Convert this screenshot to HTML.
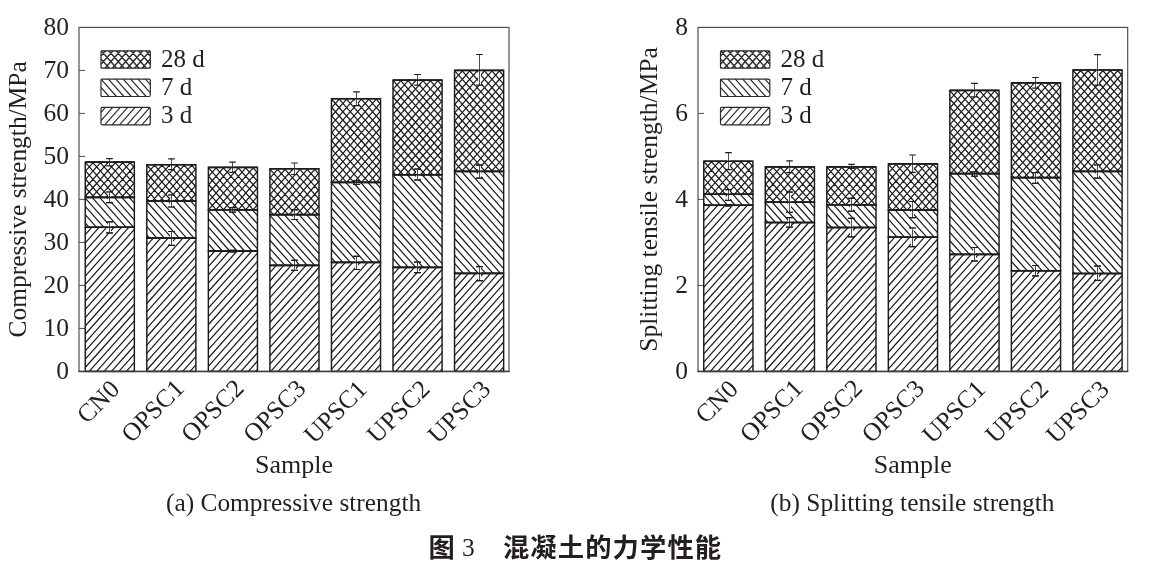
<!DOCTYPE html>
<html lang="zh">
<head>
<meta charset="utf-8">
<title>图 3 混凝土的力学性能</title>
<style>
html,body{margin:0;padding:0;background:#fff;}
body{width:1150px;height:566px;overflow:hidden;}
svg{display:block;}
</style>
</head>
<body>
<svg width="1150" height="566" viewBox="0 0 1150 566">
<rect width="1150" height="566" fill="#fff"/>
<rect x="79" y="27.4" width="430" height="344" fill="none" stroke="#4a4a4a" stroke-width="1.15"/>
<text x="69" y="378.9" font-family='"Liberation Serif", serif' font-size="25.5" text-anchor="end" fill="#231f20">0</text>
<path d="M79 328.4H85" stroke="#4a4a4a" stroke-width="1" fill="none"/>
<text x="69" y="335.9" font-family='"Liberation Serif", serif' font-size="25.5" text-anchor="end" fill="#231f20">10</text>
<path d="M79 285.4H85" stroke="#4a4a4a" stroke-width="1" fill="none"/>
<text x="69" y="292.9" font-family='"Liberation Serif", serif' font-size="25.5" text-anchor="end" fill="#231f20">20</text>
<path d="M79 242.4H85" stroke="#4a4a4a" stroke-width="1" fill="none"/>
<text x="69" y="249.9" font-family='"Liberation Serif", serif' font-size="25.5" text-anchor="end" fill="#231f20">30</text>
<path d="M79 199.4H85" stroke="#4a4a4a" stroke-width="1" fill="none"/>
<text x="69" y="206.9" font-family='"Liberation Serif", serif' font-size="25.5" text-anchor="end" fill="#231f20">40</text>
<path d="M79 156.4H85" stroke="#4a4a4a" stroke-width="1" fill="none"/>
<text x="69" y="163.9" font-family='"Liberation Serif", serif' font-size="25.5" text-anchor="end" fill="#231f20">50</text>
<path d="M79 113.4H85" stroke="#4a4a4a" stroke-width="1" fill="none"/>
<text x="69" y="120.9" font-family='"Liberation Serif", serif' font-size="25.5" text-anchor="end" fill="#231f20">60</text>
<path d="M79 70.4H85" stroke="#4a4a4a" stroke-width="1" fill="none"/>
<text x="69" y="77.9" font-family='"Liberation Serif", serif' font-size="25.5" text-anchor="end" fill="#231f20">70</text>
<text x="69" y="34.9" font-family='"Liberation Serif", serif' font-size="25.5" text-anchor="end" fill="#231f20">80</text>
<path d="M85.25 234.56L91.73 227.3M85.25 242.87L99.15 227.3M85.25 251.18L106.57 227.3M85.25 259.49L113.99 227.3M85.25 267.8L121.41 227.3M85.25 276.11L128.83 227.3M85.25 284.42L134.35 229.43M85.25 292.73L134.35 237.74M85.25 301.04L134.35 246.05M85.25 309.35L134.35 254.36M85.25 317.66L134.35 262.67M85.25 325.97L134.35 270.98M85.25 334.28L134.35 279.29M85.25 342.59L134.35 287.6M85.25 350.9L134.35 295.91M85.25 359.21L134.35 304.22M85.25 367.52L134.35 312.53M89.21 371.4L134.35 320.84M96.63 371.4L134.35 329.15M104.05 371.4L134.35 337.46M111.47 371.4L134.35 345.77M118.89 371.4L134.35 354.08M126.31 371.4L134.35 362.39M133.73 371.4L134.35 370.7" stroke="#1c1a1b" stroke-width="1.22" fill="none"/>
<rect x="85.25" y="227.3" width="49.1" height="144.1" fill="none" stroke="#1c1a1b" stroke-width="1.45"/>
<path d="M109.5 221.8V232.9" stroke="#fff" stroke-width="2.8" fill="none"/>
<path d="M109.5 221.8V232.9" stroke="#222" stroke-width="0.8" fill="none"/>
<path d="M106.2 221.8H112.8M106.2 232.9H112.8" stroke="#1c1a1b" stroke-width="1.2" fill="none"/>
<path d="M85.25 222.98L89.11 227.3M85.25 214.67L96.53 227.3M85.25 206.36L103.95 227.3M85.25 198.05L111.37 227.3M92.09 197.4L118.79 227.3M99.51 197.4L126.21 227.3M106.93 197.4L133.63 227.3M114.35 197.4L134.35 219.8M121.77 197.4L134.35 211.49M129.19 197.4L134.35 203.18" stroke="#1c1a1b" stroke-width="1.22" fill="none"/>
<rect x="85.25" y="197.4" width="49.1" height="29.9" fill="none" stroke="#1c1a1b" stroke-width="1.45"/>
<path d="M109.5 221.8V232.9" stroke="#fff" stroke-width="2.8" fill="none"/>
<path d="M109.5 221.8V232.9" stroke="#222" stroke-width="0.8" fill="none"/>
<path d="M106.2 221.8H112.8M106.2 232.9H112.8" stroke="#1c1a1b" stroke-width="1.2" fill="none"/>
<path d="M109.5 192V202.7" stroke="#fff" stroke-width="2.8" fill="none"/>
<path d="M109.5 192V202.7" stroke="#222" stroke-width="0.8" fill="none"/>
<path d="M106.2 192H112.8M106.2 202.7H112.8" stroke="#1c1a1b" stroke-width="1.2" fill="none"/>
<path d="M85.25 163.04L86.09 162.1M85.25 171.35L93.51 162.1M85.25 179.66L100.93 162.1M85.25 187.97L108.35 162.1M85.25 196.28L115.77 162.1M91.67 197.4L123.19 162.1M99.09 197.4L130.61 162.1M106.51 197.4L134.35 166.22M113.93 197.4L134.35 174.53M121.35 197.4L134.35 182.84M128.77 197.4L134.35 191.15M85.25 195.6L86.85 197.4M85.25 187.29L94.27 197.4M85.25 178.98L101.69 197.4M85.25 170.67L109.11 197.4M85.25 162.36L116.53 197.4M92.43 162.1L123.95 197.4M99.85 162.1L131.37 197.4M107.27 162.1L134.35 192.42M114.69 162.1L134.35 184.11M122.11 162.1L134.35 175.8M129.53 162.1L134.35 167.49" stroke="#1c1a1b" stroke-width="1.25" fill="none"/>
<rect x="85.25" y="162.1" width="49.1" height="35.3" fill="none" stroke="#1c1a1b" stroke-width="1.45"/>
<path d="M109.5 192V202.7" stroke="#fff" stroke-width="2.8" fill="none"/>
<path d="M109.5 192V202.7" stroke="#222" stroke-width="0.8" fill="none"/>
<path d="M106.2 192H112.8M106.2 202.7H112.8" stroke="#1c1a1b" stroke-width="1.2" fill="none"/>
<path d="M109.5 158.6V165.8" stroke="#fff" stroke-width="2.8" fill="none"/>
<path d="M109.5 158.6V165.8" stroke="#222" stroke-width="0.8" fill="none"/>
<path d="M106.2 158.6H112.8M106.2 165.8H112.8" stroke="#1c1a1b" stroke-width="1.2" fill="none"/>
<path d="M85.25 227.3H134.35M85.25 197.4H134.35M85.25 162.1H134.35" stroke="#1c1a1b" stroke-width="1.6" fill="none"/>
<path d="M146.8 245.36L153.28 238.1M146.8 253.67L160.7 238.1M146.8 261.98L168.12 238.1M146.8 270.29L175.54 238.1M146.8 278.6L182.96 238.1M146.8 286.91L190.38 238.1M146.8 295.22L195.9 240.23M146.8 303.53L195.9 248.54M146.8 311.84L195.9 256.85M146.8 320.15L195.9 265.16M146.8 328.46L195.9 273.47M146.8 336.77L195.9 281.78M146.8 345.08L195.9 290.09M146.8 353.39L195.9 298.4M146.8 361.7L195.9 306.71M146.8 370.01L195.9 315.02M152.98 371.4L195.9 323.33M160.4 371.4L195.9 331.64M167.82 371.4L195.9 339.95M175.24 371.4L195.9 348.26M182.66 371.4L195.9 356.57M190.08 371.4L195.9 364.88" stroke="#1c1a1b" stroke-width="1.22" fill="none"/>
<rect x="146.8" y="238.1" width="49.1" height="133.3" fill="none" stroke="#1c1a1b" stroke-width="1.45"/>
<path d="M171.5 231.5V245.3" stroke="#fff" stroke-width="2.8" fill="none"/>
<path d="M171.5 231.5V245.3" stroke="#222" stroke-width="0.8" fill="none"/>
<path d="M168.2 231.5H174.8M168.2 245.3H174.8" stroke="#1c1a1b" stroke-width="1.2" fill="none"/>
<path d="M146.8 234.99L149.58 238.1M146.8 226.68L157 238.1M146.8 218.37L164.42 238.1M146.8 210.06L171.84 238.1M146.8 201.75L179.26 238.1M153.64 201.1L186.68 238.1M161.06 201.1L194.1 238.1M168.48 201.1L195.9 231.81M175.9 201.1L195.9 223.5M183.32 201.1L195.9 215.19M190.74 201.1L195.9 206.88" stroke="#1c1a1b" stroke-width="1.22" fill="none"/>
<rect x="146.8" y="201.1" width="49.1" height="37" fill="none" stroke="#1c1a1b" stroke-width="1.45"/>
<path d="M171.5 231.5V245.3" stroke="#fff" stroke-width="2.8" fill="none"/>
<path d="M171.5 231.5V245.3" stroke="#222" stroke-width="0.8" fill="none"/>
<path d="M168.2 231.5H174.8M168.2 245.3H174.8" stroke="#1c1a1b" stroke-width="1.2" fill="none"/>
<path d="M171.5 195V207" stroke="#fff" stroke-width="2.8" fill="none"/>
<path d="M171.5 195V207" stroke="#222" stroke-width="0.8" fill="none"/>
<path d="M168.2 195H174.8M168.2 207H174.8" stroke="#1c1a1b" stroke-width="1.2" fill="none"/>
<path d="M146.8 165.64L147.64 164.7M146.8 173.95L155.06 164.7M146.8 182.26L162.48 164.7M146.8 190.57L169.9 164.7M146.8 198.88L177.32 164.7M152.23 201.1L184.74 164.7M159.65 201.1L192.16 164.7M167.07 201.1L195.9 168.82M174.49 201.1L195.9 177.13M181.91 201.1L195.9 185.44M189.33 201.1L195.9 193.75M146.8 198.2L149.39 201.1M146.8 189.89L156.81 201.1M146.8 181.58L164.23 201.1M146.8 173.27L171.65 201.1M146.8 164.96L179.07 201.1M153.98 164.7L186.49 201.1M161.4 164.7L193.91 201.1M168.82 164.7L195.9 195.02M176.24 164.7L195.9 186.71M183.66 164.7L195.9 178.4M191.08 164.7L195.9 170.09" stroke="#1c1a1b" stroke-width="1.25" fill="none"/>
<rect x="146.8" y="164.7" width="49.1" height="36.4" fill="none" stroke="#1c1a1b" stroke-width="1.45"/>
<path d="M171.5 195V207" stroke="#fff" stroke-width="2.8" fill="none"/>
<path d="M171.5 195V207" stroke="#222" stroke-width="0.8" fill="none"/>
<path d="M168.2 195H174.8M168.2 207H174.8" stroke="#1c1a1b" stroke-width="1.2" fill="none"/>
<path d="M171.5 158.9V169.7" stroke="#fff" stroke-width="2.8" fill="none"/>
<path d="M171.5 158.9V169.7" stroke="#222" stroke-width="0.8" fill="none"/>
<path d="M168.2 158.9H174.8M168.2 169.7H174.8" stroke="#1c1a1b" stroke-width="1.2" fill="none"/>
<path d="M146.8 238.1H195.9M146.8 201.1H195.9M146.8 164.7H195.9" stroke="#1c1a1b" stroke-width="1.6" fill="none"/>
<path d="M208.35 258.26L214.83 251M208.35 266.57L222.25 251M208.35 274.88L229.67 251M208.35 283.19L237.09 251M208.35 291.5L244.51 251M208.35 299.81L251.93 251M208.35 308.12L257.45 253.13M208.35 316.43L257.45 261.44M208.35 324.74L257.45 269.75M208.35 333.05L257.45 278.06M208.35 341.36L257.45 286.37M208.35 349.67L257.45 294.68M208.35 357.98L257.45 302.99M208.35 366.29L257.45 311.3M211.21 371.4L257.45 319.61M218.63 371.4L257.45 327.92M226.05 371.4L257.45 336.23M233.47 371.4L257.45 344.54M240.89 371.4L257.45 352.85M248.31 371.4L257.45 361.16M255.73 371.4L257.45 369.47" stroke="#1c1a1b" stroke-width="1.22" fill="none"/>
<rect x="208.35" y="251" width="49.1" height="120.4" fill="none" stroke="#1c1a1b" stroke-width="1.45"/>
<path d="M232.5 250.4V251.8" stroke="#fff" stroke-width="2.8" fill="none"/>
<path d="M232.5 250.4V251.8" stroke="#222" stroke-width="0.8" fill="none"/>
<path d="M229.2 250.4H235.8M229.2 251.8H235.8" stroke="#1c1a1b" stroke-width="1.2" fill="none"/>
<path d="M208.35 243.69L214.88 251M208.35 235.38L222.3 251M208.35 227.07L229.72 251M208.35 218.76L237.14 251M208.35 210.45L244.56 251M215.19 209.8L251.98 251M222.61 209.8L257.45 248.82M230.03 209.8L257.45 240.51M237.45 209.8L257.45 232.2M244.87 209.8L257.45 223.89M252.29 209.8L257.45 215.58" stroke="#1c1a1b" stroke-width="1.22" fill="none"/>
<rect x="208.35" y="209.8" width="49.1" height="41.2" fill="none" stroke="#1c1a1b" stroke-width="1.45"/>
<path d="M232.5 250.4V251.8" stroke="#fff" stroke-width="2.8" fill="none"/>
<path d="M232.5 250.4V251.8" stroke="#222" stroke-width="0.8" fill="none"/>
<path d="M229.2 250.4H235.8M229.2 251.8H235.8" stroke="#1c1a1b" stroke-width="1.2" fill="none"/>
<path d="M232.5 207.7V212.1" stroke="#fff" stroke-width="2.8" fill="none"/>
<path d="M232.5 207.7V212.1" stroke="#222" stroke-width="0.8" fill="none"/>
<path d="M229.2 207.7H235.8M229.2 212.1H235.8" stroke="#1c1a1b" stroke-width="1.2" fill="none"/>
<path d="M208.35 168.34L209.19 167.4M208.35 176.65L216.61 167.4M208.35 184.96L224.03 167.4M208.35 193.27L231.45 167.4M208.35 201.58L238.87 167.4M208.43 209.8L246.29 167.4M215.85 209.8L253.71 167.4M223.27 209.8L257.45 171.52M230.69 209.8L257.45 179.83M238.11 209.8L257.45 188.14M245.53 209.8L257.45 196.45M252.95 209.8L257.45 204.76M208.35 209.21L208.87 209.8M208.35 200.9L216.29 209.8M208.35 192.59L223.71 209.8M208.35 184.28L231.13 209.8M208.35 175.97L238.55 209.8M208.35 167.66L245.97 209.8M215.53 167.4L253.39 209.8M222.95 167.4L257.45 206.03M230.37 167.4L257.45 197.72M237.79 167.4L257.45 189.41M245.21 167.4L257.45 181.1M252.63 167.4L257.45 172.79" stroke="#1c1a1b" stroke-width="1.25" fill="none"/>
<rect x="208.35" y="167.4" width="49.1" height="42.4" fill="none" stroke="#1c1a1b" stroke-width="1.45"/>
<path d="M232.5 207.7V212.1" stroke="#fff" stroke-width="2.8" fill="none"/>
<path d="M232.5 207.7V212.1" stroke="#222" stroke-width="0.8" fill="none"/>
<path d="M229.2 207.7H235.8M229.2 212.1H235.8" stroke="#1c1a1b" stroke-width="1.2" fill="none"/>
<path d="M232.5 162.1V172.3" stroke="#fff" stroke-width="2.8" fill="none"/>
<path d="M232.5 162.1V172.3" stroke="#222" stroke-width="0.8" fill="none"/>
<path d="M229.2 162.1H235.8M229.2 172.3H235.8" stroke="#1c1a1b" stroke-width="1.2" fill="none"/>
<path d="M208.35 251H257.45M208.35 209.8H257.45M208.35 167.4H257.45" stroke="#1c1a1b" stroke-width="1.6" fill="none"/>
<path d="M269.9 272.66L276.38 265.4M269.9 280.97L283.8 265.4M269.9 289.28L291.22 265.4M269.9 297.59L298.64 265.4M269.9 305.9L306.06 265.4M269.9 314.21L313.48 265.4M269.9 322.52L319 267.53M269.9 330.83L319 275.84M269.9 339.14L319 284.15M269.9 347.45L319 292.46M269.9 355.76L319 300.77M269.9 364.07L319 309.08M270.78 371.4L319 317.39M278.2 371.4L319 325.7M285.62 371.4L319 334.01M293.04 371.4L319 342.32M300.46 371.4L319 350.63M307.88 371.4L319 358.94M315.3 371.4L319 367.25" stroke="#1c1a1b" stroke-width="1.22" fill="none"/>
<rect x="269.9" y="265.4" width="49.1" height="106" fill="none" stroke="#1c1a1b" stroke-width="1.45"/>
<path d="M294.5 260.3V270.4" stroke="#fff" stroke-width="2.8" fill="none"/>
<path d="M294.5 260.3V270.4" stroke="#222" stroke-width="0.8" fill="none"/>
<path d="M291.2 260.3H297.8M291.2 270.4H297.8" stroke="#1c1a1b" stroke-width="1.2" fill="none"/>
<path d="M269.9 265.16L270.11 265.4M269.9 256.85L277.53 265.4M269.9 248.54L284.95 265.4M269.9 240.23L292.37 265.4M269.9 231.92L299.79 265.4M269.9 223.61L307.21 265.4M269.9 215.3L314.63 265.4M276.74 214.65L319 261.98M284.16 214.65L319 253.67M291.58 214.65L319 245.36M299 214.65L319 237.05M306.42 214.65L319 228.74M313.84 214.65L319 220.43" stroke="#1c1a1b" stroke-width="1.22" fill="none"/>
<rect x="269.9" y="214.65" width="49.1" height="50.75" fill="none" stroke="#1c1a1b" stroke-width="1.45"/>
<path d="M294.5 260.3V270.4" stroke="#fff" stroke-width="2.8" fill="none"/>
<path d="M294.5 260.3V270.4" stroke="#222" stroke-width="0.8" fill="none"/>
<path d="M291.2 260.3H297.8M291.2 270.4H297.8" stroke="#1c1a1b" stroke-width="1.2" fill="none"/>
<path d="M294.5 209.8V219.5" stroke="#fff" stroke-width="2.8" fill="none"/>
<path d="M294.5 209.8V219.5" stroke="#222" stroke-width="0.8" fill="none"/>
<path d="M291.2 209.8H297.8M291.2 219.5H297.8" stroke="#1c1a1b" stroke-width="1.2" fill="none"/>
<path d="M269.9 169.74L270.74 168.8M269.9 178.05L278.16 168.8M269.9 186.36L285.58 168.8M269.9 194.67L293 168.8M269.9 202.98L300.42 168.8M269.9 211.29L307.84 168.8M274.32 214.65L315.26 168.8M281.74 214.65L319 172.92M289.16 214.65L319 181.23M296.58 214.65L319 189.54M304 214.65L319 197.85M311.42 214.65L319 206.16M318.84 214.65L319 214.47M269.9 210.61L273.5 214.65M269.9 202.3L280.92 214.65M269.9 193.99L288.34 214.65M269.9 185.68L295.76 214.65M269.9 177.37L303.18 214.65M269.9 169.06L310.6 214.65M277.08 168.8L318.02 214.65M284.5 168.8L319 207.43M291.92 168.8L319 199.12M299.34 168.8L319 190.81M306.76 168.8L319 182.5M314.18 168.8L319 174.19" stroke="#1c1a1b" stroke-width="1.25" fill="none"/>
<rect x="269.9" y="168.8" width="49.1" height="45.85" fill="none" stroke="#1c1a1b" stroke-width="1.45"/>
<path d="M294.5 209.8V219.5" stroke="#fff" stroke-width="2.8" fill="none"/>
<path d="M294.5 209.8V219.5" stroke="#222" stroke-width="0.8" fill="none"/>
<path d="M291.2 209.8H297.8M291.2 219.5H297.8" stroke="#1c1a1b" stroke-width="1.2" fill="none"/>
<path d="M294.5 163V174.5" stroke="#fff" stroke-width="2.8" fill="none"/>
<path d="M294.5 163V174.5" stroke="#222" stroke-width="0.8" fill="none"/>
<path d="M291.2 163H297.8M291.2 174.5H297.8" stroke="#1c1a1b" stroke-width="1.2" fill="none"/>
<path d="M269.9 265.4H319M269.9 214.65H319M269.9 168.8H319" stroke="#1c1a1b" stroke-width="1.6" fill="none"/>
<path d="M331.45 269.66L337.93 262.4M331.45 277.97L345.35 262.4M331.45 286.28L352.77 262.4M331.45 294.59L360.19 262.4M331.45 302.9L367.61 262.4M331.45 311.21L375.03 262.4M331.45 319.52L380.55 264.53M331.45 327.83L380.55 272.84M331.45 336.14L380.55 281.15M331.45 344.45L380.55 289.46M331.45 352.76L380.55 297.77M331.45 361.07L380.55 306.08M331.45 369.38L380.55 314.39M337.07 371.4L380.55 322.7M344.49 371.4L380.55 331.01M351.91 371.4L380.55 339.32M359.33 371.4L380.55 347.63M366.75 371.4L380.55 355.94M374.17 371.4L380.55 364.25" stroke="#1c1a1b" stroke-width="1.22" fill="none"/>
<rect x="331.45" y="262.4" width="49.1" height="109" fill="none" stroke="#1c1a1b" stroke-width="1.45"/>
<path d="M356.5 256.3V269.5" stroke="#fff" stroke-width="2.8" fill="none"/>
<path d="M356.5 256.3V269.5" stroke="#222" stroke-width="0.8" fill="none"/>
<path d="M353.2 256.3H359.8M353.2 269.5H359.8" stroke="#1c1a1b" stroke-width="1.2" fill="none"/>
<path d="M331.45 257.84L335.52 262.4M331.45 249.53L342.94 262.4M331.45 241.22L350.36 262.4M331.45 232.91L357.78 262.4M331.45 224.6L365.2 262.4M331.45 216.29L372.62 262.4M331.45 207.98L380.04 262.4M331.45 199.67L380.55 254.66M331.45 191.36L380.55 246.35M331.45 183.05L380.55 238.04M338.29 182.4L380.55 229.73M345.71 182.4L380.55 221.42M353.13 182.4L380.55 213.11M360.55 182.4L380.55 204.8M367.97 182.4L380.55 196.49M375.39 182.4L380.55 188.18" stroke="#1c1a1b" stroke-width="1.22" fill="none"/>
<rect x="331.45" y="182.4" width="49.1" height="80" fill="none" stroke="#1c1a1b" stroke-width="1.45"/>
<path d="M356.5 256.3V269.5" stroke="#fff" stroke-width="2.8" fill="none"/>
<path d="M356.5 256.3V269.5" stroke="#222" stroke-width="0.8" fill="none"/>
<path d="M353.2 256.3H359.8M353.2 269.5H359.8" stroke="#1c1a1b" stroke-width="1.2" fill="none"/>
<path d="M356.5 180.6V184.5" stroke="#fff" stroke-width="2.8" fill="none"/>
<path d="M356.5 180.6V184.5" stroke="#222" stroke-width="0.8" fill="none"/>
<path d="M353.2 180.6H359.8M353.2 184.5H359.8" stroke="#1c1a1b" stroke-width="1.2" fill="none"/>
<path d="M331.45 99.64L332.29 98.7M331.45 107.95L339.71 98.7M331.45 116.26L347.13 98.7M331.45 124.57L354.55 98.7M331.45 132.88L361.97 98.7M331.45 141.19L369.39 98.7M331.45 149.5L376.81 98.7M331.45 157.81L380.55 102.82M331.45 166.12L380.55 111.13M331.45 174.43L380.55 119.44M331.75 182.4L380.55 127.75M339.17 182.4L380.55 136.06M346.59 182.4L380.55 144.37M354.01 182.4L380.55 152.68M361.43 182.4L380.55 160.99M368.85 182.4L380.55 169.3M376.27 182.4L380.55 177.61M331.45 182.06L331.75 182.4M331.45 173.75L339.17 182.4M331.45 165.44L346.59 182.4M331.45 157.13L354.01 182.4M331.45 148.82L361.43 182.4M331.45 140.51L368.85 182.4M331.45 132.2L376.27 182.4M331.45 123.89L380.55 178.88M331.45 115.58L380.55 170.57M331.45 107.27L380.55 162.26M331.45 98.96L380.55 153.95M338.63 98.7L380.55 145.64M346.05 98.7L380.55 137.33M353.47 98.7L380.55 129.02M360.89 98.7L380.55 120.71M368.31 98.7L380.55 112.4M375.73 98.7L380.55 104.09" stroke="#1c1a1b" stroke-width="1.25" fill="none"/>
<rect x="331.45" y="98.7" width="49.1" height="83.7" fill="none" stroke="#1c1a1b" stroke-width="1.45"/>
<path d="M356.5 180.6V184.5" stroke="#fff" stroke-width="2.8" fill="none"/>
<path d="M356.5 180.6V184.5" stroke="#222" stroke-width="0.8" fill="none"/>
<path d="M353.2 180.6H359.8M353.2 184.5H359.8" stroke="#1c1a1b" stroke-width="1.2" fill="none"/>
<path d="M356.5 91.8V105.7" stroke="#fff" stroke-width="2.8" fill="none"/>
<path d="M356.5 91.8V105.7" stroke="#222" stroke-width="0.8" fill="none"/>
<path d="M353.2 91.8H359.8M353.2 105.7H359.8" stroke="#1c1a1b" stroke-width="1.2" fill="none"/>
<path d="M331.45 262.4H380.55M331.45 182.4H380.55M331.45 98.7H380.55" stroke="#1c1a1b" stroke-width="1.6" fill="none"/>
<path d="M393 274.66L399.48 267.4M393 282.97L406.9 267.4M393 291.28L414.32 267.4M393 299.59L421.74 267.4M393 307.9L429.16 267.4M393 316.21L436.58 267.4M393 324.52L442.1 269.53M393 332.83L442.1 277.84M393 341.14L442.1 286.15M393 349.45L442.1 294.46M393 357.76L442.1 302.77M393 366.07L442.1 311.08M395.66 371.4L442.1 319.39M403.08 371.4L442.1 327.7M410.5 371.4L442.1 336.01M417.92 371.4L442.1 344.32M425.34 371.4L442.1 352.63M432.76 371.4L442.1 360.94M440.18 371.4L442.1 369.25" stroke="#1c1a1b" stroke-width="1.22" fill="none"/>
<rect x="393" y="267.4" width="49.1" height="104" fill="none" stroke="#1c1a1b" stroke-width="1.45"/>
<path d="M417.5 262.1V272.7" stroke="#fff" stroke-width="2.8" fill="none"/>
<path d="M417.5 262.1V272.7" stroke="#222" stroke-width="0.8" fill="none"/>
<path d="M414.2 262.1H420.8M414.2 272.7H420.8" stroke="#1c1a1b" stroke-width="1.2" fill="none"/>
<path d="M393 266.81L393.53 267.4M393 258.5L400.95 267.4M393 250.19L408.37 267.4M393 241.88L415.79 267.4M393 233.57L423.21 267.4M393 225.26L430.63 267.4M393 216.95L438.05 267.4M393 208.64L442.1 263.63M393 200.33L442.1 255.32M393 192.02L442.1 247.01M393 183.71L442.1 238.7M393 175.4L442.1 230.39M399.84 174.75L442.1 222.08M407.26 174.75L442.1 213.77M414.68 174.75L442.1 205.46M422.1 174.75L442.1 197.15M429.52 174.75L442.1 188.84M436.94 174.75L442.1 180.53" stroke="#1c1a1b" stroke-width="1.22" fill="none"/>
<rect x="393" y="174.75" width="49.1" height="92.65" fill="none" stroke="#1c1a1b" stroke-width="1.45"/>
<path d="M417.5 262.1V272.7" stroke="#fff" stroke-width="2.8" fill="none"/>
<path d="M417.5 262.1V272.7" stroke="#222" stroke-width="0.8" fill="none"/>
<path d="M414.2 262.1H420.8M414.2 272.7H420.8" stroke="#1c1a1b" stroke-width="1.2" fill="none"/>
<path d="M417.5 169.2V179.8" stroke="#fff" stroke-width="2.8" fill="none"/>
<path d="M417.5 169.2V179.8" stroke="#222" stroke-width="0.8" fill="none"/>
<path d="M414.2 169.2H420.8M414.2 179.8H420.8" stroke="#1c1a1b" stroke-width="1.2" fill="none"/>
<path d="M393 81.04L393.84 80.1M393 89.35L401.26 80.1M393 97.66L408.68 80.1M393 105.97L416.1 80.1M393 114.28L423.52 80.1M393 122.59L430.94 80.1M393 130.9L438.36 80.1M393 139.21L442.1 84.22M393 147.52L442.1 92.53M393 155.83L442.1 100.84M393 164.14L442.1 109.15M393 172.45L442.1 117.46M398.36 174.75L442.1 125.77M405.78 174.75L442.1 134.08M413.2 174.75L442.1 142.39M420.62 174.75L442.1 150.7M428.04 174.75L442.1 159.01M435.46 174.75L442.1 167.32M393 171.77L395.66 174.75M393 163.46L403.08 174.75M393 155.15L410.5 174.75M393 146.84L417.92 174.75M393 138.53L425.34 174.75M393 130.22L432.76 174.75M393 121.91L440.18 174.75M393 113.6L442.1 168.59M393 105.29L442.1 160.28M393 96.98L442.1 151.97M393 88.67L442.1 143.66M393 80.36L442.1 135.35M400.18 80.1L442.1 127.04M407.6 80.1L442.1 118.73M415.02 80.1L442.1 110.42M422.44 80.1L442.1 102.11M429.86 80.1L442.1 93.8M437.28 80.1L442.1 85.49" stroke="#1c1a1b" stroke-width="1.25" fill="none"/>
<rect x="393" y="80.1" width="49.1" height="94.65" fill="none" stroke="#1c1a1b" stroke-width="1.45"/>
<path d="M417.5 169.2V179.8" stroke="#fff" stroke-width="2.8" fill="none"/>
<path d="M417.5 169.2V179.8" stroke="#222" stroke-width="0.8" fill="none"/>
<path d="M414.2 169.2H420.8M414.2 179.8H420.8" stroke="#1c1a1b" stroke-width="1.2" fill="none"/>
<path d="M417.5 74.5V85.1" stroke="#fff" stroke-width="2.8" fill="none"/>
<path d="M417.5 74.5V85.1" stroke="#222" stroke-width="0.8" fill="none"/>
<path d="M414.2 74.5H420.8M414.2 85.1H420.8" stroke="#1c1a1b" stroke-width="1.2" fill="none"/>
<path d="M393 267.4H442.1M393 174.75H442.1M393 80.1H442.1" stroke="#1c1a1b" stroke-width="1.6" fill="none"/>
<path d="M454.55 280.66L461.03 273.4M454.55 288.97L468.45 273.4M454.55 297.28L475.87 273.4M454.55 305.59L483.29 273.4M454.55 313.9L490.71 273.4M454.55 322.21L498.13 273.4M454.55 330.52L503.65 275.53M454.55 338.83L503.65 283.84M454.55 347.14L503.65 292.15M454.55 355.45L503.65 300.46M454.55 363.76L503.65 308.77M455.15 371.4L503.65 317.08M462.57 371.4L503.65 325.39M469.99 371.4L503.65 333.7M477.41 371.4L503.65 342.01M484.83 371.4L503.65 350.32M492.25 371.4L503.65 358.63M499.67 371.4L503.65 366.94" stroke="#1c1a1b" stroke-width="1.22" fill="none"/>
<rect x="454.55" y="273.4" width="49.1" height="98" fill="none" stroke="#1c1a1b" stroke-width="1.45"/>
<path d="M479.5 266.6V280.7" stroke="#fff" stroke-width="2.8" fill="none"/>
<path d="M479.5 266.6V280.7" stroke="#222" stroke-width="0.8" fill="none"/>
<path d="M476.2 266.6H482.8M476.2 280.7H482.8" stroke="#1c1a1b" stroke-width="1.2" fill="none"/>
<path d="M454.55 271.77L456.01 273.4M454.55 263.46L463.43 273.4M454.55 255.15L470.85 273.4M454.55 246.84L478.27 273.4M454.55 238.53L485.69 273.4M454.55 230.22L493.11 273.4M454.55 221.91L500.53 273.4M454.55 213.6L503.65 268.59M454.55 205.29L503.65 260.28M454.55 196.98L503.65 251.97M454.55 188.67L503.65 243.66M454.55 180.36L503.65 235.35M454.55 172.05L503.65 227.04M461.39 171.4L503.65 218.73M468.81 171.4L503.65 210.42M476.23 171.4L503.65 202.11M483.65 171.4L503.65 193.8M491.07 171.4L503.65 185.49M498.49 171.4L503.65 177.18" stroke="#1c1a1b" stroke-width="1.22" fill="none"/>
<rect x="454.55" y="171.4" width="49.1" height="102" fill="none" stroke="#1c1a1b" stroke-width="1.45"/>
<path d="M479.5 266.6V280.7" stroke="#fff" stroke-width="2.8" fill="none"/>
<path d="M479.5 266.6V280.7" stroke="#222" stroke-width="0.8" fill="none"/>
<path d="M476.2 266.6H482.8M476.2 280.7H482.8" stroke="#1c1a1b" stroke-width="1.2" fill="none"/>
<path d="M479.5 165.2V178.2" stroke="#fff" stroke-width="2.8" fill="none"/>
<path d="M479.5 165.2V178.2" stroke="#222" stroke-width="0.8" fill="none"/>
<path d="M476.2 165.2H482.8M476.2 178.2H482.8" stroke="#1c1a1b" stroke-width="1.2" fill="none"/>
<path d="M454.55 71.34L455.39 70.4M454.55 79.65L462.81 70.4M454.55 87.96L470.23 70.4M454.55 96.27L477.65 70.4M454.55 104.58L485.07 70.4M454.55 112.89L492.49 70.4M454.55 121.2L499.91 70.4M454.55 129.51L503.65 74.52M454.55 137.82L503.65 82.83M454.55 146.13L503.65 91.14M454.55 154.44L503.65 99.45M454.55 162.75L503.65 107.76M454.55 171.06L503.65 116.07M461.66 171.4L503.65 124.38M469.08 171.4L503.65 132.69M476.5 171.4L503.65 141M483.92 171.4L503.65 149.31M491.34 171.4L503.65 157.62M498.76 171.4L503.65 165.93M454.55 170.38L455.46 171.4M454.55 162.07L462.88 171.4M454.55 153.76L470.3 171.4M454.55 145.45L477.72 171.4M454.55 137.14L485.14 171.4M454.55 128.83L492.56 171.4M454.55 120.52L499.98 171.4M454.55 112.21L503.65 167.2M454.55 103.9L503.65 158.89M454.55 95.59L503.65 150.58M454.55 87.28L503.65 142.27M454.55 78.97L503.65 133.96M454.55 70.66L503.65 125.65M461.73 70.4L503.65 117.34M469.15 70.4L503.65 109.03M476.57 70.4L503.65 100.72M483.99 70.4L503.65 92.41M491.41 70.4L503.65 84.1M498.83 70.4L503.65 75.79" stroke="#1c1a1b" stroke-width="1.25" fill="none"/>
<rect x="454.55" y="70.4" width="49.1" height="101" fill="none" stroke="#1c1a1b" stroke-width="1.45"/>
<path d="M479.5 165.2V178.2" stroke="#fff" stroke-width="2.8" fill="none"/>
<path d="M479.5 165.2V178.2" stroke="#222" stroke-width="0.8" fill="none"/>
<path d="M476.2 165.2H482.8M476.2 178.2H482.8" stroke="#1c1a1b" stroke-width="1.2" fill="none"/>
<path d="M479.5 54.5V85.1" stroke="#fff" stroke-width="2.8" fill="none"/>
<path d="M479.5 54.5V85.1" stroke="#222" stroke-width="0.8" fill="none"/>
<path d="M476.2 54.5H482.8M476.2 85.1H482.8" stroke="#1c1a1b" stroke-width="1.2" fill="none"/>
<path d="M454.55 273.4H503.65M454.55 171.4H503.65M454.55 70.4H503.65" stroke="#1c1a1b" stroke-width="1.6" fill="none"/>
<path d="M78.5 371.55H509.5" stroke="#3c3c3c" stroke-width="1.4" fill="none"/>
<path d="M101 56.02L105.66 50.8M101 64.33L113.08 50.8M104.96 68.2L120.5 50.8M112.38 68.2L127.92 50.8M119.8 68.2L135.34 50.8M127.22 68.2L142.76 50.8M134.64 68.2L150.18 50.8M142.06 68.2L150.3 58.97M149.48 68.2L150.3 67.28M101 67.17L101.92 68.2M101 58.86L109.34 68.2M101.22 50.8L116.76 68.2M108.64 50.8L124.18 68.2M116.06 50.8L131.6 68.2M123.48 50.8L139.02 68.2M130.9 50.8L146.44 68.2M138.32 50.8L150.3 64.22M145.74 50.8L150.3 55.91" stroke="#2a2a2a" stroke-width="1.4" fill="none"/>
<rect x="101" y="50.8" width="49.3" height="17.4" rx="1.2" fill="none" stroke="#2a2a2a" stroke-width="1.2"/>
<text x="160.9" y="66.55" font-family='"Liberation Serif", serif' font-size="25" text-anchor="start" fill="#231f20">28 d</text>
<path d="M101 95.77L101.65 96.5M101 87.46L109.07 96.5M101 79.15L116.49 96.5M108.37 79.1L123.91 96.5M115.79 79.1L131.33 96.5M123.21 79.1L138.75 96.5M130.63 79.1L146.17 96.5M138.05 79.1L150.3 92.82M145.47 79.1L150.3 84.51" stroke="#2a2a2a" stroke-width="1.15" fill="none"/>
<rect x="101" y="79.1" width="49.3" height="17.4" rx="1.2" fill="none" stroke="#2a2a2a" stroke-width="1.2"/>
<text x="160.9" y="94.85" font-family='"Liberation Serif", serif' font-size="25" text-anchor="start" fill="#231f20">7 d</text>
<path d="M101 112.3L105.38 107.4M101 120.61L112.8 107.4M104.68 124.8L120.22 107.4M112.1 124.8L127.64 107.4M119.52 124.8L135.06 107.4M126.94 124.8L142.48 107.4M134.36 124.8L149.9 107.4M141.78 124.8L150.3 115.26M149.2 124.8L150.3 123.57" stroke="#2a2a2a" stroke-width="1.15" fill="none"/>
<rect x="101" y="107.4" width="49.3" height="17.4" rx="1.2" fill="none" stroke="#2a2a2a" stroke-width="1.2"/>
<text x="160.9" y="123.15" font-family='"Liberation Serif", serif' font-size="25" text-anchor="start" fill="#231f20">3 d</text>
<text x="121" y="390.6" font-family='"Liberation Serif", serif' font-size="25.5" text-anchor="end" fill="#231f20" transform="rotate(-45 121 390.6)">CN0</text>
<text x="185.65" y="389.7" font-family='"Liberation Serif", serif' font-size="25.5" text-anchor="end" fill="#231f20" transform="rotate(-45 185.65 389.7)">OPSC1</text>
<text x="245.3" y="389.7" font-family='"Liberation Serif", serif' font-size="25.5" text-anchor="end" fill="#231f20" transform="rotate(-45 245.3 389.7)">OPSC2</text>
<text x="307.35" y="389.9" font-family='"Liberation Serif", serif' font-size="25.5" text-anchor="end" fill="#231f20" transform="rotate(-45 307.35 389.9)">OPSC3</text>
<text x="368.3" y="390.7" font-family='"Liberation Serif", serif' font-size="25.5" text-anchor="end" fill="#231f20" transform="rotate(-45 368.3 390.7)">UPSC1</text>
<text x="431.25" y="390.4" font-family='"Liberation Serif", serif' font-size="25.5" text-anchor="end" fill="#231f20" transform="rotate(-45 431.25 390.4)">UPSC2</text>
<text x="492.1" y="390.7" font-family='"Liberation Serif", serif' font-size="25.5" text-anchor="end" fill="#231f20" transform="rotate(-45 492.1 390.7)">UPSC3</text>
<text x="294" y="472.7" font-family='"Liberation Serif", serif' font-size="26" text-anchor="middle" fill="#231f20">Sample</text>
<text x="293.6" y="511.2" font-family='"Liberation Serif", serif' font-size="25.4" text-anchor="middle" fill="#231f20">(a) Compressive strength</text>
<text x="26.3" y="199.4" font-family='"Liberation Serif", serif' font-size="26.2" text-anchor="middle" fill="#231f20" textLength="276.2" lengthAdjust="spacingAndGlyphs" transform="rotate(-90 26.3 199.4)">Compressive strength/MPa</text>
<rect x="698" y="27.4" width="429.7" height="344" fill="none" stroke="#4a4a4a" stroke-width="1.15"/>
<text x="688" y="378.9" font-family='"Liberation Serif", serif' font-size="25.5" text-anchor="end" fill="#231f20">0</text>
<path d="M698 285.4H704" stroke="#4a4a4a" stroke-width="1" fill="none"/>
<text x="688" y="292.9" font-family='"Liberation Serif", serif' font-size="25.5" text-anchor="end" fill="#231f20">2</text>
<path d="M698 199.4H704" stroke="#4a4a4a" stroke-width="1" fill="none"/>
<text x="688" y="206.9" font-family='"Liberation Serif", serif' font-size="25.5" text-anchor="end" fill="#231f20">4</text>
<path d="M698 113.4H704" stroke="#4a4a4a" stroke-width="1" fill="none"/>
<text x="688" y="120.9" font-family='"Liberation Serif", serif' font-size="25.5" text-anchor="end" fill="#231f20">6</text>
<text x="688" y="34.9" font-family='"Liberation Serif", serif' font-size="25.5" text-anchor="end" fill="#231f20">8</text>
<path d="M703.75 212.56L710.23 205.3M703.75 220.87L717.65 205.3M703.75 229.18L725.07 205.3M703.75 237.49L732.49 205.3M703.75 245.8L739.91 205.3M703.75 254.11L747.33 205.3M703.75 262.42L752.95 207.32M703.75 270.73L752.95 215.63M703.75 279.04L752.95 223.94M703.75 287.35L752.95 232.25M703.75 295.66L752.95 240.56M703.75 303.97L752.95 248.87M703.75 312.28L752.95 257.18M703.75 320.59L752.95 265.49M703.75 328.9L752.95 273.8M703.75 337.21L752.95 282.11M703.75 345.52L752.95 290.42M703.75 353.83L752.95 298.73M703.75 362.14L752.95 307.04M703.75 370.45L752.95 315.35M710.32 371.4L752.95 323.66M717.74 371.4L752.95 331.97M725.16 371.4L752.95 340.28M732.58 371.4L752.95 348.59M740 371.4L752.95 356.9M747.42 371.4L752.95 365.21" stroke="#1c1a1b" stroke-width="1.22" fill="none"/>
<rect x="703.75" y="205.3" width="49.2" height="166.1" fill="none" stroke="#1c1a1b" stroke-width="1.45"/>
<path d="M728.5 204.6V206" stroke="#fff" stroke-width="2.8" fill="none"/>
<path d="M728.5 204.6V206" stroke="#222" stroke-width="0.8" fill="none"/>
<path d="M725.2 204.6H731.8M725.2 206H731.8" stroke="#1c1a1b" stroke-width="1.2" fill="none"/>
<path d="M703.75 203.26L705.57 205.3M703.75 194.95L712.99 205.3M710.59 194.3L720.41 205.3M718.01 194.3L727.83 205.3M725.43 194.3L735.25 205.3M732.85 194.3L742.67 205.3M740.27 194.3L750.09 205.3M747.69 194.3L752.95 200.19" stroke="#1c1a1b" stroke-width="1.22" fill="none"/>
<rect x="703.75" y="194.3" width="49.2" height="11" fill="none" stroke="#1c1a1b" stroke-width="1.45"/>
<path d="M728.5 204.6V206" stroke="#fff" stroke-width="2.8" fill="none"/>
<path d="M728.5 204.6V206" stroke="#222" stroke-width="0.8" fill="none"/>
<path d="M725.2 204.6H731.8M725.2 206H731.8" stroke="#1c1a1b" stroke-width="1.2" fill="none"/>
<path d="M728.5 189.6V200.4" stroke="#fff" stroke-width="2.8" fill="none"/>
<path d="M728.5 189.6V200.4" stroke="#222" stroke-width="0.8" fill="none"/>
<path d="M725.2 189.6H731.8M725.2 200.4H731.8" stroke="#1c1a1b" stroke-width="1.2" fill="none"/>
<path d="M703.75 162.14L704.59 161.2M703.75 170.45L712.01 161.2M703.75 178.76L719.43 161.2M703.75 187.07L726.85 161.2M704.71 194.3L734.27 161.2M712.13 194.3L741.69 161.2M719.55 194.3L749.11 161.2M726.97 194.3L752.95 165.2M734.39 194.3L752.95 173.51M741.81 194.3L752.95 181.82M749.23 194.3L752.95 190.13M703.75 186.39L710.81 194.3M703.75 178.08L718.23 194.3M703.75 169.77L725.65 194.3M703.75 161.46L733.07 194.3M710.93 161.2L740.49 194.3M718.35 161.2L747.91 194.3M725.77 161.2L752.95 191.64M733.19 161.2L752.95 183.33M740.61 161.2L752.95 175.02M748.03 161.2L752.95 166.71" stroke="#1c1a1b" stroke-width="1.25" fill="none"/>
<rect x="703.75" y="161.2" width="49.2" height="33.1" fill="none" stroke="#1c1a1b" stroke-width="1.45"/>
<path d="M728.5 189.6V200.4" stroke="#fff" stroke-width="2.8" fill="none"/>
<path d="M728.5 189.6V200.4" stroke="#222" stroke-width="0.8" fill="none"/>
<path d="M725.2 189.6H731.8M725.2 200.4H731.8" stroke="#1c1a1b" stroke-width="1.2" fill="none"/>
<path d="M728.5 152.7V169.7" stroke="#fff" stroke-width="2.8" fill="none"/>
<path d="M728.5 152.7V169.7" stroke="#222" stroke-width="0.8" fill="none"/>
<path d="M725.2 152.7H731.8M725.2 169.7H731.8" stroke="#1c1a1b" stroke-width="1.2" fill="none"/>
<path d="M703.75 205.3H752.95M703.75 194.3H752.95M703.75 161.2H752.95" stroke="#1c1a1b" stroke-width="1.6" fill="none"/>
<path d="M765.27 229.76L771.76 222.5M765.27 238.07L779.18 222.5M765.27 246.38L786.6 222.5M765.27 254.69L794.02 222.5M765.27 263L801.44 222.5M765.27 271.31L808.86 222.5M765.27 279.62L814.48 224.52M765.27 287.93L814.48 232.83M765.27 296.24L814.48 241.14M765.27 304.55L814.48 249.45M765.27 312.86L814.48 257.76M765.27 321.17L814.48 266.07M765.27 329.48L814.48 274.38M765.27 337.79L814.48 282.69M765.27 346.1L814.48 291M765.27 354.41L814.48 299.31M765.27 362.72L814.48 307.62M765.27 371.03L814.48 315.93M772.36 371.4L814.48 324.24M779.78 371.4L814.48 332.55M787.2 371.4L814.48 340.86M794.62 371.4L814.48 349.17M802.04 371.4L814.48 357.48M809.46 371.4L814.48 365.79" stroke="#1c1a1b" stroke-width="1.22" fill="none"/>
<rect x="765.27" y="222.5" width="49.2" height="148.9" fill="none" stroke="#1c1a1b" stroke-width="1.45"/>
<path d="M789.5 217.7V227.1" stroke="#fff" stroke-width="2.8" fill="none"/>
<path d="M789.5 217.7V227.1" stroke="#222" stroke-width="0.8" fill="none"/>
<path d="M786.2 217.7H792.8M786.2 227.1H792.8" stroke="#1c1a1b" stroke-width="1.2" fill="none"/>
<path d="M765.27 219.47L767.98 222.5M765.27 211.16L775.4 222.5M765.27 202.85L782.82 222.5M772.11 202.2L790.24 222.5M779.53 202.2L797.66 222.5M786.95 202.2L805.08 222.5M794.37 202.2L812.5 222.5M801.79 202.2L814.48 216.4M809.21 202.2L814.48 208.09" stroke="#1c1a1b" stroke-width="1.22" fill="none"/>
<rect x="765.27" y="202.2" width="49.2" height="20.3" fill="none" stroke="#1c1a1b" stroke-width="1.45"/>
<path d="M789.5 217.7V227.1" stroke="#fff" stroke-width="2.8" fill="none"/>
<path d="M789.5 217.7V227.1" stroke="#222" stroke-width="0.8" fill="none"/>
<path d="M786.2 217.7H792.8M786.2 227.1H792.8" stroke="#1c1a1b" stroke-width="1.2" fill="none"/>
<path d="M789.5 192.1V212.4" stroke="#fff" stroke-width="2.8" fill="none"/>
<path d="M789.5 192.1V212.4" stroke="#222" stroke-width="0.8" fill="none"/>
<path d="M786.2 192.1H792.8M786.2 212.4H792.8" stroke="#1c1a1b" stroke-width="1.2" fill="none"/>
<path d="M765.27 167.84L766.11 166.9M765.27 176.15L773.53 166.9M765.27 184.46L780.95 166.9M765.27 192.77L788.37 166.9M765.27 201.08L795.79 166.9M771.69 202.2L803.21 166.9M779.11 202.2L810.63 166.9M786.53 202.2L814.48 170.9M793.95 202.2L814.48 179.21M801.37 202.2L814.48 187.52M808.79 202.2L814.48 195.83M765.27 200.4L766.88 202.2M765.27 192.09L774.3 202.2M765.27 183.78L781.72 202.2M765.27 175.47L789.14 202.2M765.27 167.16L796.56 202.2M772.46 166.9L803.98 202.2M779.88 166.9L811.4 202.2M787.3 166.9L814.48 197.34M794.72 166.9L814.48 189.03M802.14 166.9L814.48 180.72M809.56 166.9L814.48 172.41" stroke="#1c1a1b" stroke-width="1.25" fill="none"/>
<rect x="765.27" y="166.9" width="49.2" height="35.3" fill="none" stroke="#1c1a1b" stroke-width="1.45"/>
<path d="M789.5 192.1V212.4" stroke="#fff" stroke-width="2.8" fill="none"/>
<path d="M789.5 192.1V212.4" stroke="#222" stroke-width="0.8" fill="none"/>
<path d="M786.2 192.1H792.8M786.2 212.4H792.8" stroke="#1c1a1b" stroke-width="1.2" fill="none"/>
<path d="M789.5 160.8V172.7" stroke="#fff" stroke-width="2.8" fill="none"/>
<path d="M789.5 160.8V172.7" stroke="#222" stroke-width="0.8" fill="none"/>
<path d="M786.2 160.8H792.8M786.2 172.7H792.8" stroke="#1c1a1b" stroke-width="1.2" fill="none"/>
<path d="M765.27 222.5H814.48M765.27 202.2H814.48M765.27 166.9H814.48" stroke="#1c1a1b" stroke-width="1.6" fill="none"/>
<path d="M826.8 234.76L833.28 227.5M826.8 243.07L840.7 227.5M826.8 251.38L848.12 227.5M826.8 259.69L855.54 227.5M826.8 268L862.96 227.5M826.8 276.31L870.38 227.5M826.8 284.62L876 229.52M826.8 292.93L876 237.83M826.8 301.24L876 246.14M826.8 309.55L876 254.45M826.8 317.86L876 262.76M826.8 326.17L876 271.07M826.8 334.48L876 279.38M826.8 342.79L876 287.69M826.8 351.1L876 296M826.8 359.41L876 304.31M826.8 367.72L876 312.62M830.93 371.4L876 320.93M838.35 371.4L876 329.24M845.77 371.4L876 337.55M853.19 371.4L876 345.86M860.61 371.4L876 354.17M868.03 371.4L876 362.48M875.45 371.4L876 370.79" stroke="#1c1a1b" stroke-width="1.22" fill="none"/>
<rect x="826.8" y="227.5" width="49.2" height="143.9" fill="none" stroke="#1c1a1b" stroke-width="1.45"/>
<path d="M851.5 218.3V236.8" stroke="#fff" stroke-width="2.8" fill="none"/>
<path d="M851.5 218.3V236.8" stroke="#222" stroke-width="0.8" fill="none"/>
<path d="M848.2 218.3H854.8M848.2 236.8H854.8" stroke="#1c1a1b" stroke-width="1.2" fill="none"/>
<path d="M826.8 222.07L831.65 227.5M826.8 213.76L839.07 227.5M826.8 205.45L846.49 227.5M833.64 204.8L853.91 227.5M841.06 204.8L861.33 227.5M848.48 204.8L868.75 227.5M855.9 204.8L876 227.31M863.32 204.8L876 219M870.74 204.8L876 210.69" stroke="#1c1a1b" stroke-width="1.22" fill="none"/>
<rect x="826.8" y="204.8" width="49.2" height="22.7" fill="none" stroke="#1c1a1b" stroke-width="1.45"/>
<path d="M851.5 218.3V236.8" stroke="#fff" stroke-width="2.8" fill="none"/>
<path d="M851.5 218.3V236.8" stroke="#222" stroke-width="0.8" fill="none"/>
<path d="M848.2 218.3H854.8M848.2 236.8H854.8" stroke="#1c1a1b" stroke-width="1.2" fill="none"/>
<path d="M851.5 198.3V211.2" stroke="#fff" stroke-width="2.8" fill="none"/>
<path d="M851.5 198.3V211.2" stroke="#222" stroke-width="0.8" fill="none"/>
<path d="M848.2 198.3H854.8M848.2 211.2H854.8" stroke="#1c1a1b" stroke-width="1.2" fill="none"/>
<path d="M826.8 167.84L827.64 166.9M826.8 176.15L835.06 166.9M826.8 184.46L842.48 166.9M826.8 192.77L849.9 166.9M826.8 201.08L857.32 166.9M830.89 204.8L864.74 166.9M838.31 204.8L872.16 166.9M845.73 204.8L876 170.9M853.15 204.8L876 179.21M860.57 204.8L876 187.52M867.99 204.8L876 195.83M875.41 204.8L876 204.14M826.8 200.4L830.73 204.8M826.8 192.09L838.15 204.8M826.8 183.78L845.57 204.8M826.8 175.47L852.99 204.8M826.8 167.16L860.41 204.8M833.98 166.9L867.83 204.8M841.4 166.9L875.25 204.8M848.82 166.9L876 197.34M856.24 166.9L876 189.03M863.66 166.9L876 180.72M871.08 166.9L876 172.41" stroke="#1c1a1b" stroke-width="1.25" fill="none"/>
<rect x="826.8" y="166.9" width="49.2" height="37.9" fill="none" stroke="#1c1a1b" stroke-width="1.45"/>
<path d="M851.5 198.3V211.2" stroke="#fff" stroke-width="2.8" fill="none"/>
<path d="M851.5 198.3V211.2" stroke="#222" stroke-width="0.8" fill="none"/>
<path d="M848.2 198.3H854.8M848.2 211.2H854.8" stroke="#1c1a1b" stroke-width="1.2" fill="none"/>
<path d="M851.5 164.4V168.3" stroke="#fff" stroke-width="2.8" fill="none"/>
<path d="M851.5 164.4V168.3" stroke="#222" stroke-width="0.8" fill="none"/>
<path d="M848.2 164.4H854.8M848.2 168.3H854.8" stroke="#1c1a1b" stroke-width="1.2" fill="none"/>
<path d="M826.8 227.5H876M826.8 204.8H876M826.8 166.9H876" stroke="#1c1a1b" stroke-width="1.6" fill="none"/>
<path d="M888.33 244.46L894.81 237.2M888.33 252.77L902.23 237.2M888.33 261.08L909.65 237.2M888.33 269.39L917.07 237.2M888.33 277.7L924.49 237.2M888.33 286.01L931.91 237.2M888.33 294.32L937.53 239.22M888.33 302.63L937.53 247.53M888.33 310.94L937.53 255.84M888.33 319.25L937.53 264.15M888.33 327.56L937.53 272.46M888.33 335.87L937.53 280.77M888.33 344.18L937.53 289.08M888.33 352.49L937.53 297.39M888.33 360.8L937.53 305.7M888.33 369.11L937.53 314.01M893.7 371.4L937.53 322.32M901.12 371.4L937.53 330.63M908.54 371.4L937.53 338.94M915.96 371.4L937.53 347.25M923.38 371.4L937.53 355.56M930.8 371.4L937.53 363.87" stroke="#1c1a1b" stroke-width="1.22" fill="none"/>
<rect x="888.33" y="237.2" width="49.2" height="134.2" fill="none" stroke="#1c1a1b" stroke-width="1.45"/>
<path d="M912.5 228V246.6" stroke="#fff" stroke-width="2.8" fill="none"/>
<path d="M912.5 228V246.6" stroke="#222" stroke-width="0.8" fill="none"/>
<path d="M909.2 228H915.8M909.2 246.6H915.8" stroke="#1c1a1b" stroke-width="1.2" fill="none"/>
<path d="M888.33 235.68L889.68 237.2M888.33 227.37L897.1 237.2M888.33 219.06L904.52 237.2M888.33 210.75L911.94 237.2M895.16 210.1L919.36 237.2M902.58 210.1L926.78 237.2M910 210.1L934.2 237.2M917.42 210.1L937.53 232.61M924.84 210.1L937.53 224.3M932.26 210.1L937.53 215.99" stroke="#1c1a1b" stroke-width="1.22" fill="none"/>
<rect x="888.33" y="210.1" width="49.2" height="27.1" fill="none" stroke="#1c1a1b" stroke-width="1.45"/>
<path d="M912.5 228V246.6" stroke="#fff" stroke-width="2.8" fill="none"/>
<path d="M912.5 228V246.6" stroke="#222" stroke-width="0.8" fill="none"/>
<path d="M909.2 228H915.8M909.2 246.6H915.8" stroke="#1c1a1b" stroke-width="1.2" fill="none"/>
<path d="M912.5 201.5V217.7" stroke="#fff" stroke-width="2.8" fill="none"/>
<path d="M912.5 201.5V217.7" stroke="#222" stroke-width="0.8" fill="none"/>
<path d="M909.2 201.5H915.8M909.2 217.7H915.8" stroke="#1c1a1b" stroke-width="1.2" fill="none"/>
<path d="M888.33 164.84L889.16 163.9M888.33 173.15L896.58 163.9M888.33 181.46L904 163.9M888.33 189.77L911.42 163.9M888.33 198.08L918.84 163.9M888.33 206.39L926.26 163.9M892.43 210.1L933.68 163.9M899.85 210.1L937.53 167.9M907.27 210.1L937.53 176.21M914.69 210.1L937.53 184.52M922.11 210.1L937.53 192.83M929.53 210.1L937.53 201.14M936.95 210.1L937.53 209.45M888.33 205.71L892.24 210.1M888.33 197.4L899.66 210.1M888.33 189.09L907.08 210.1M888.33 180.78L914.5 210.1M888.33 172.47L921.92 210.1M888.33 164.16L929.34 210.1M895.51 163.9L936.76 210.1M902.93 163.9L937.53 202.65M910.35 163.9L937.53 194.34M917.77 163.9L937.53 186.03M925.19 163.9L937.53 177.72M932.61 163.9L937.53 169.41" stroke="#1c1a1b" stroke-width="1.25" fill="none"/>
<rect x="888.33" y="163.9" width="49.2" height="46.2" fill="none" stroke="#1c1a1b" stroke-width="1.45"/>
<path d="M912.5 201.5V217.7" stroke="#fff" stroke-width="2.8" fill="none"/>
<path d="M912.5 201.5V217.7" stroke="#222" stroke-width="0.8" fill="none"/>
<path d="M909.2 201.5H915.8M909.2 217.7H915.8" stroke="#1c1a1b" stroke-width="1.2" fill="none"/>
<path d="M912.5 155V172.3" stroke="#fff" stroke-width="2.8" fill="none"/>
<path d="M912.5 155V172.3" stroke="#222" stroke-width="0.8" fill="none"/>
<path d="M909.2 155H915.8M909.2 172.3H915.8" stroke="#1c1a1b" stroke-width="1.2" fill="none"/>
<path d="M888.33 237.2H937.53M888.33 210.1H937.53M888.33 163.9H937.53" stroke="#1c1a1b" stroke-width="1.6" fill="none"/>
<path d="M949.85 261.66L956.33 254.4M949.85 269.97L963.75 254.4M949.85 278.28L971.17 254.4M949.85 286.59L978.59 254.4M949.85 294.9L986.01 254.4M949.85 303.21L993.43 254.4M949.85 311.52L999.05 256.42M949.85 319.83L999.05 264.73M949.85 328.14L999.05 273.04M949.85 336.45L999.05 281.35M949.85 344.76L999.05 289.66M949.85 353.07L999.05 297.97M949.85 361.38L999.05 306.28M949.85 369.69L999.05 314.59M955.74 371.4L999.05 322.9M963.16 371.4L999.05 331.21M970.58 371.4L999.05 339.52M978 371.4L999.05 347.83M985.42 371.4L999.05 356.14M992.84 371.4L999.05 364.45" stroke="#1c1a1b" stroke-width="1.22" fill="none"/>
<rect x="949.85" y="254.4" width="49.2" height="117" fill="none" stroke="#1c1a1b" stroke-width="1.45"/>
<path d="M974.5 247.5V260.9" stroke="#fff" stroke-width="2.8" fill="none"/>
<path d="M974.5 247.5V260.9" stroke="#222" stroke-width="0.8" fill="none"/>
<path d="M971.2 247.5H977.8M971.2 260.9H977.8" stroke="#1c1a1b" stroke-width="1.2" fill="none"/>
<path d="M949.85 249.04L954.64 254.4M949.85 240.73L962.06 254.4M949.85 232.42L969.48 254.4M949.85 224.11L976.9 254.4M949.85 215.8L984.32 254.4M949.85 207.49L991.74 254.4M949.85 199.18L999.05 254.28M949.85 190.87L999.05 245.97M949.85 182.56L999.05 237.66M949.85 174.25L999.05 229.35M956.69 173.6L999.05 221.04M964.11 173.6L999.05 212.73M971.53 173.6L999.05 204.42M978.95 173.6L999.05 196.11M986.37 173.6L999.05 187.8M993.79 173.6L999.05 179.49" stroke="#1c1a1b" stroke-width="1.22" fill="none"/>
<rect x="949.85" y="173.6" width="49.2" height="80.8" fill="none" stroke="#1c1a1b" stroke-width="1.45"/>
<path d="M974.5 247.5V260.9" stroke="#fff" stroke-width="2.8" fill="none"/>
<path d="M974.5 247.5V260.9" stroke="#222" stroke-width="0.8" fill="none"/>
<path d="M971.2 247.5H977.8M971.2 260.9H977.8" stroke="#1c1a1b" stroke-width="1.2" fill="none"/>
<path d="M974.5 171.8V176.2" stroke="#fff" stroke-width="2.8" fill="none"/>
<path d="M974.5 171.8V176.2" stroke="#222" stroke-width="0.8" fill="none"/>
<path d="M971.2 171.8H977.8M971.2 176.2H977.8" stroke="#1c1a1b" stroke-width="1.2" fill="none"/>
<path d="M949.85 91.34L950.69 90.4M949.85 99.65L958.11 90.4M949.85 107.96L965.53 90.4M949.85 116.27L972.95 90.4M949.85 124.58L980.37 90.4M949.85 132.89L987.79 90.4M949.85 141.2L995.21 90.4M949.85 149.51L999.05 94.4M949.85 157.82L999.05 102.71M949.85 166.13L999.05 111.02M950.6 173.6L999.05 119.33M958.02 173.6L999.05 127.64M965.44 173.6L999.05 135.95M972.86 173.6L999.05 144.26M980.28 173.6L999.05 152.57M987.7 173.6L999.05 160.88M995.12 173.6L999.05 169.19M949.85 165.45L957.12 173.6M949.85 157.14L964.54 173.6M949.85 148.83L971.96 173.6M949.85 140.52L979.38 173.6M949.85 132.21L986.8 173.6M949.85 123.9L994.22 173.6M949.85 115.59L999.05 170.7M949.85 107.28L999.05 162.39M949.85 98.97L999.05 154.08M949.85 90.66L999.05 145.77M957.03 90.4L999.05 137.46M964.45 90.4L999.05 129.15M971.87 90.4L999.05 120.84M979.29 90.4L999.05 112.53M986.71 90.4L999.05 104.22M994.13 90.4L999.05 95.91" stroke="#1c1a1b" stroke-width="1.25" fill="none"/>
<rect x="949.85" y="90.4" width="49.2" height="83.2" fill="none" stroke="#1c1a1b" stroke-width="1.45"/>
<path d="M974.5 171.8V176.2" stroke="#fff" stroke-width="2.8" fill="none"/>
<path d="M974.5 171.8V176.2" stroke="#222" stroke-width="0.8" fill="none"/>
<path d="M971.2 171.8H977.8M971.2 176.2H977.8" stroke="#1c1a1b" stroke-width="1.2" fill="none"/>
<path d="M974.5 83.3V96.9" stroke="#fff" stroke-width="2.8" fill="none"/>
<path d="M974.5 83.3V96.9" stroke="#222" stroke-width="0.8" fill="none"/>
<path d="M971.2 83.3H977.8M971.2 96.9H977.8" stroke="#1c1a1b" stroke-width="1.2" fill="none"/>
<path d="M949.85 254.4H999.05M949.85 173.6H999.05M949.85 90.4H999.05" stroke="#1c1a1b" stroke-width="1.6" fill="none"/>
<path d="M1011.38 277.96L1017.86 270.7M1011.38 286.27L1025.28 270.7M1011.38 294.58L1032.7 270.7M1011.38 302.89L1040.12 270.7M1011.38 311.2L1047.54 270.7M1011.38 319.51L1054.96 270.7M1011.38 327.82L1060.58 272.72M1011.38 336.13L1060.58 281.03M1011.38 344.44L1060.58 289.34M1011.38 352.75L1060.58 297.65M1011.38 361.06L1060.58 305.96M1011.38 369.37L1060.58 314.27M1016.98 371.4L1060.58 322.58M1024.4 371.4L1060.58 330.89M1031.82 371.4L1060.58 339.2M1039.24 371.4L1060.58 347.51M1046.66 371.4L1060.58 355.82M1054.08 371.4L1060.58 364.13" stroke="#1c1a1b" stroke-width="1.22" fill="none"/>
<rect x="1011.38" y="270.7" width="49.2" height="100.7" fill="none" stroke="#1c1a1b" stroke-width="1.45"/>
<path d="M1035.5 265.5V275.8" stroke="#fff" stroke-width="2.8" fill="none"/>
<path d="M1035.5 265.5V275.8" stroke="#222" stroke-width="0.8" fill="none"/>
<path d="M1032.2 265.5H1038.8M1032.2 275.8H1038.8" stroke="#1c1a1b" stroke-width="1.2" fill="none"/>
<path d="M1011.38 269.66L1012.3 270.7M1011.38 261.35L1019.72 270.7M1011.38 253.04L1027.14 270.7M1011.38 244.73L1034.56 270.7M1011.38 236.42L1041.98 270.7M1011.38 228.11L1049.4 270.7M1011.38 219.8L1056.82 270.7M1011.38 211.49L1060.58 266.59M1011.38 203.18L1060.58 258.28M1011.38 194.87L1060.58 249.97M1011.38 186.56L1060.58 241.66M1011.38 178.25L1060.58 233.35M1018.21 177.6L1060.58 225.04M1025.63 177.6L1060.58 216.73M1033.05 177.6L1060.58 208.42M1040.47 177.6L1060.58 200.11M1047.89 177.6L1060.58 191.8M1055.31 177.6L1060.58 183.49" stroke="#1c1a1b" stroke-width="1.22" fill="none"/>
<rect x="1011.38" y="177.6" width="49.2" height="93.1" fill="none" stroke="#1c1a1b" stroke-width="1.45"/>
<path d="M1035.5 265.5V275.8" stroke="#fff" stroke-width="2.8" fill="none"/>
<path d="M1035.5 265.5V275.8" stroke="#222" stroke-width="0.8" fill="none"/>
<path d="M1032.2 265.5H1038.8M1032.2 275.8H1038.8" stroke="#1c1a1b" stroke-width="1.2" fill="none"/>
<path d="M1035.5 172.7V183.3" stroke="#fff" stroke-width="2.8" fill="none"/>
<path d="M1035.5 172.7V183.3" stroke="#222" stroke-width="0.8" fill="none"/>
<path d="M1032.2 172.7H1038.8M1032.2 183.3H1038.8" stroke="#1c1a1b" stroke-width="1.2" fill="none"/>
<path d="M1011.38 83.84L1012.21 82.9M1011.38 92.15L1019.63 82.9M1011.38 100.46L1027.05 82.9M1011.38 108.77L1034.47 82.9M1011.38 117.08L1041.89 82.9M1011.38 125.39L1049.31 82.9M1011.38 133.7L1056.73 82.9M1011.38 142.01L1060.58 86.9M1011.38 150.32L1060.58 95.21M1011.38 158.63L1060.58 103.52M1011.38 166.94L1060.58 111.83M1011.38 175.25L1060.58 120.14M1016.69 177.6L1060.58 128.45M1024.11 177.6L1060.58 136.76M1031.53 177.6L1060.58 145.07M1038.95 177.6L1060.58 153.38M1046.37 177.6L1060.58 161.69M1053.79 177.6L1060.58 170M1011.38 174.57L1014.08 177.6M1011.38 166.26L1021.5 177.6M1011.38 157.95L1028.92 177.6M1011.38 149.64L1036.34 177.6M1011.38 141.33L1043.76 177.6M1011.38 133.02L1051.18 177.6M1011.38 124.71L1058.6 177.6M1011.38 116.4L1060.58 171.51M1011.38 108.09L1060.58 163.2M1011.38 99.78L1060.58 154.89M1011.38 91.47L1060.58 146.58M1011.38 83.16L1060.58 138.27M1018.56 82.9L1060.58 129.96M1025.98 82.9L1060.58 121.65M1033.4 82.9L1060.58 113.34M1040.82 82.9L1060.58 105.03M1048.24 82.9L1060.58 96.72M1055.66 82.9L1060.58 88.41" stroke="#1c1a1b" stroke-width="1.25" fill="none"/>
<rect x="1011.38" y="82.9" width="49.2" height="94.7" fill="none" stroke="#1c1a1b" stroke-width="1.45"/>
<path d="M1035.5 172.7V183.3" stroke="#fff" stroke-width="2.8" fill="none"/>
<path d="M1035.5 172.7V183.3" stroke="#222" stroke-width="0.8" fill="none"/>
<path d="M1032.2 172.7H1038.8M1032.2 183.3H1038.8" stroke="#1c1a1b" stroke-width="1.2" fill="none"/>
<path d="M1035.5 77.5V88.1" stroke="#fff" stroke-width="2.8" fill="none"/>
<path d="M1035.5 77.5V88.1" stroke="#222" stroke-width="0.8" fill="none"/>
<path d="M1032.2 77.5H1038.8M1032.2 88.1H1038.8" stroke="#1c1a1b" stroke-width="1.2" fill="none"/>
<path d="M1011.38 270.7H1060.58M1011.38 177.6H1060.58M1011.38 82.9H1060.58" stroke="#1c1a1b" stroke-width="1.6" fill="none"/>
<path d="M1072.9 280.76L1079.38 273.5M1072.9 289.07L1086.8 273.5M1072.9 297.38L1094.22 273.5M1072.9 305.69L1101.64 273.5M1072.9 314L1109.06 273.5M1072.9 322.31L1116.48 273.5M1072.9 330.62L1122.1 275.52M1072.9 338.93L1122.1 283.83M1072.9 347.24L1122.1 292.14M1072.9 355.55L1122.1 300.45M1072.9 363.86L1122.1 308.76M1073.59 371.4L1122.1 317.07M1081.01 371.4L1122.1 325.38M1088.43 371.4L1122.1 333.69M1095.85 371.4L1122.1 342M1103.27 371.4L1122.1 350.31M1110.69 371.4L1122.1 358.62M1118.11 371.4L1122.1 366.93" stroke="#1c1a1b" stroke-width="1.22" fill="none"/>
<rect x="1072.9" y="273.5" width="49.2" height="97.9" fill="none" stroke="#1c1a1b" stroke-width="1.45"/>
<path d="M1097.5 266.1V280.4" stroke="#fff" stroke-width="2.8" fill="none"/>
<path d="M1097.5 266.1V280.4" stroke="#222" stroke-width="0.8" fill="none"/>
<path d="M1094.2 266.1H1100.8M1094.2 280.4H1100.8" stroke="#1c1a1b" stroke-width="1.2" fill="none"/>
<path d="M1072.9 271.77L1074.44 273.5M1072.9 263.46L1081.86 273.5M1072.9 255.15L1089.28 273.5M1072.9 246.84L1096.7 273.5M1072.9 238.53L1104.12 273.5M1072.9 230.22L1111.54 273.5M1072.9 221.91L1118.96 273.5M1072.9 213.6L1122.1 268.7M1072.9 205.29L1122.1 260.39M1072.9 196.98L1122.1 252.08M1072.9 188.67L1122.1 243.77M1072.9 180.36L1122.1 235.46M1072.9 172.05L1122.1 227.15M1079.74 171.4L1122.1 218.84M1087.16 171.4L1122.1 210.53M1094.58 171.4L1122.1 202.22M1102 171.4L1122.1 193.91M1109.42 171.4L1122.1 185.6M1116.84 171.4L1122.1 177.29" stroke="#1c1a1b" stroke-width="1.22" fill="none"/>
<rect x="1072.9" y="171.4" width="49.2" height="102.1" fill="none" stroke="#1c1a1b" stroke-width="1.45"/>
<path d="M1097.5 266.1V280.4" stroke="#fff" stroke-width="2.8" fill="none"/>
<path d="M1097.5 266.1V280.4" stroke="#222" stroke-width="0.8" fill="none"/>
<path d="M1094.2 266.1H1100.8M1094.2 280.4H1100.8" stroke="#1c1a1b" stroke-width="1.2" fill="none"/>
<path d="M1097.5 165V178.2" stroke="#fff" stroke-width="2.8" fill="none"/>
<path d="M1097.5 165V178.2" stroke="#222" stroke-width="0.8" fill="none"/>
<path d="M1094.2 165H1100.8M1094.2 178.2H1100.8" stroke="#1c1a1b" stroke-width="1.2" fill="none"/>
<path d="M1072.9 70.94L1073.74 70M1072.9 79.25L1081.16 70M1072.9 87.56L1088.58 70M1072.9 95.87L1096 70M1072.9 104.18L1103.42 70M1072.9 112.49L1110.84 70M1072.9 120.8L1118.26 70M1072.9 129.11L1122.1 74M1072.9 137.42L1122.1 82.31M1072.9 145.73L1122.1 90.62M1072.9 154.04L1122.1 98.93M1072.9 162.35L1122.1 107.24M1072.9 170.66L1122.1 115.55M1079.66 171.4L1122.1 123.86M1087.08 171.4L1122.1 132.17M1094.5 171.4L1122.1 140.48M1101.92 171.4L1122.1 148.79M1109.34 171.4L1122.1 157.1M1116.76 171.4L1122.1 165.41M1072.9 169.98L1074.16 171.4M1072.9 161.67L1081.58 171.4M1072.9 153.36L1089 171.4M1072.9 145.05L1096.42 171.4M1072.9 136.74L1103.84 171.4M1072.9 128.43L1111.26 171.4M1072.9 120.12L1118.68 171.4M1072.9 111.81L1122.1 166.92M1072.9 103.5L1122.1 158.61M1072.9 95.19L1122.1 150.3M1072.9 86.88L1122.1 141.99M1072.9 78.57L1122.1 133.68M1072.9 70.26L1122.1 125.37M1080.08 70L1122.1 117.06M1087.5 70L1122.1 108.75M1094.92 70L1122.1 100.44M1102.34 70L1122.1 92.13M1109.76 70L1122.1 83.82M1117.18 70L1122.1 75.51" stroke="#1c1a1b" stroke-width="1.25" fill="none"/>
<rect x="1072.9" y="70" width="49.2" height="101.4" fill="none" stroke="#1c1a1b" stroke-width="1.45"/>
<path d="M1097.5 165V178.2" stroke="#fff" stroke-width="2.8" fill="none"/>
<path d="M1097.5 165V178.2" stroke="#222" stroke-width="0.8" fill="none"/>
<path d="M1094.2 165H1100.8M1094.2 178.2H1100.8" stroke="#1c1a1b" stroke-width="1.2" fill="none"/>
<path d="M1097.5 54.7V85.1" stroke="#fff" stroke-width="2.8" fill="none"/>
<path d="M1097.5 54.7V85.1" stroke="#222" stroke-width="0.8" fill="none"/>
<path d="M1094.2 54.7H1100.8M1094.2 85.1H1100.8" stroke="#1c1a1b" stroke-width="1.2" fill="none"/>
<path d="M1072.9 273.5H1122.1M1072.9 171.4H1122.1M1072.9 70H1122.1" stroke="#1c1a1b" stroke-width="1.6" fill="none"/>
<path d="M697.5 371.55H1128.2" stroke="#3c3c3c" stroke-width="1.4" fill="none"/>
<path d="M720.5 56.02L725.16 50.8M720.5 64.33L732.58 50.8M724.46 68.2L740 50.8M731.88 68.2L747.42 50.8M739.3 68.2L754.84 50.8M746.72 68.2L762.26 50.8M754.14 68.2L769.68 50.8M761.56 68.2L769.8 58.97M768.98 68.2L769.8 67.28M720.5 67.17L721.42 68.2M720.5 58.86L728.84 68.2M720.72 50.8L736.26 68.2M728.14 50.8L743.68 68.2M735.56 50.8L751.1 68.2M742.98 50.8L758.52 68.2M750.4 50.8L765.94 68.2M757.82 50.8L769.8 64.22M765.24 50.8L769.8 55.91" stroke="#2a2a2a" stroke-width="1.4" fill="none"/>
<rect x="720.5" y="50.8" width="49.3" height="17.4" rx="1.2" fill="none" stroke="#2a2a2a" stroke-width="1.2"/>
<text x="780.4" y="66.55" font-family='"Liberation Serif", serif' font-size="25" text-anchor="start" fill="#231f20">28 d</text>
<path d="M720.5 95.77L721.15 96.5M720.5 87.46L728.57 96.5M720.5 79.15L735.99 96.5M727.87 79.1L743.41 96.5M735.29 79.1L750.83 96.5M742.71 79.1L758.25 96.5M750.13 79.1L765.67 96.5M757.55 79.1L769.8 92.82M764.97 79.1L769.8 84.51" stroke="#2a2a2a" stroke-width="1.15" fill="none"/>
<rect x="720.5" y="79.1" width="49.3" height="17.4" rx="1.2" fill="none" stroke="#2a2a2a" stroke-width="1.2"/>
<text x="780.4" y="94.85" font-family='"Liberation Serif", serif' font-size="25" text-anchor="start" fill="#231f20">7 d</text>
<path d="M720.5 112.3L724.88 107.4M720.5 120.61L732.3 107.4M724.18 124.8L739.72 107.4M731.6 124.8L747.14 107.4M739.02 124.8L754.56 107.4M746.44 124.8L761.98 107.4M753.86 124.8L769.4 107.4M761.28 124.8L769.8 115.26M768.7 124.8L769.8 123.57" stroke="#2a2a2a" stroke-width="1.15" fill="none"/>
<rect x="720.5" y="107.4" width="49.3" height="17.4" rx="1.2" fill="none" stroke="#2a2a2a" stroke-width="1.2"/>
<text x="780.4" y="123.15" font-family='"Liberation Serif", serif' font-size="25" text-anchor="start" fill="#231f20">3 d</text>
<text x="739.55" y="390.6" font-family='"Liberation Serif", serif' font-size="25.5" text-anchor="end" fill="#231f20" transform="rotate(-45 739.55 390.6)">CN0</text>
<text x="804.17" y="389.7" font-family='"Liberation Serif", serif' font-size="25.5" text-anchor="end" fill="#231f20" transform="rotate(-45 804.17 389.7)">OPSC1</text>
<text x="863.8" y="389.7" font-family='"Liberation Serif", serif' font-size="25.5" text-anchor="end" fill="#231f20" transform="rotate(-45 863.8 389.7)">OPSC2</text>
<text x="925.83" y="389.9" font-family='"Liberation Serif", serif' font-size="25.5" text-anchor="end" fill="#231f20" transform="rotate(-45 925.83 389.9)">OPSC3</text>
<text x="986.75" y="390.7" font-family='"Liberation Serif", serif' font-size="25.5" text-anchor="end" fill="#231f20" transform="rotate(-45 986.75 390.7)">UPSC1</text>
<text x="1049.67" y="390.4" font-family='"Liberation Serif", serif' font-size="25.5" text-anchor="end" fill="#231f20" transform="rotate(-45 1049.67 390.4)">UPSC2</text>
<text x="1110.5" y="390.7" font-family='"Liberation Serif", serif' font-size="25.5" text-anchor="end" fill="#231f20" transform="rotate(-45 1110.5 390.7)">UPSC3</text>
<text x="912.85" y="472.7" font-family='"Liberation Serif", serif' font-size="26" text-anchor="middle" fill="#231f20">Sample</text>
<text x="912.45" y="511.2" font-family='"Liberation Serif", serif' font-size="25.4" text-anchor="middle" fill="#231f20">(b) Splitting tensile strength</text>
<text x="657.1" y="199.4" font-family='"Liberation Serif", serif' font-size="26.2" text-anchor="middle" fill="#231f20" textLength="304.5" lengthAdjust="spacingAndGlyphs" transform="rotate(-90 657.1 199.4)">Splitting tensile strength/MPa</text>
<text x="428.4" y="557.2" font-family='"Liberation Sans", "Noto Sans CJK SC", sans-serif' font-size="26.3" text-anchor="start" fill="#231f20" font-weight="bold">图</text>
<text x="462.1" y="556.4" font-family='"Liberation Serif", serif' font-size="25.5" text-anchor="start" fill="#231f20">3</text>
<text x="502.9" y="557.2" font-family='"Liberation Sans", "Noto Sans CJK SC", sans-serif' font-size="26.3" text-anchor="start" fill="#231f20" font-weight="bold" letter-spacing="1.12">混凝土的力学性能</text>
</svg>
</body>
</html>
